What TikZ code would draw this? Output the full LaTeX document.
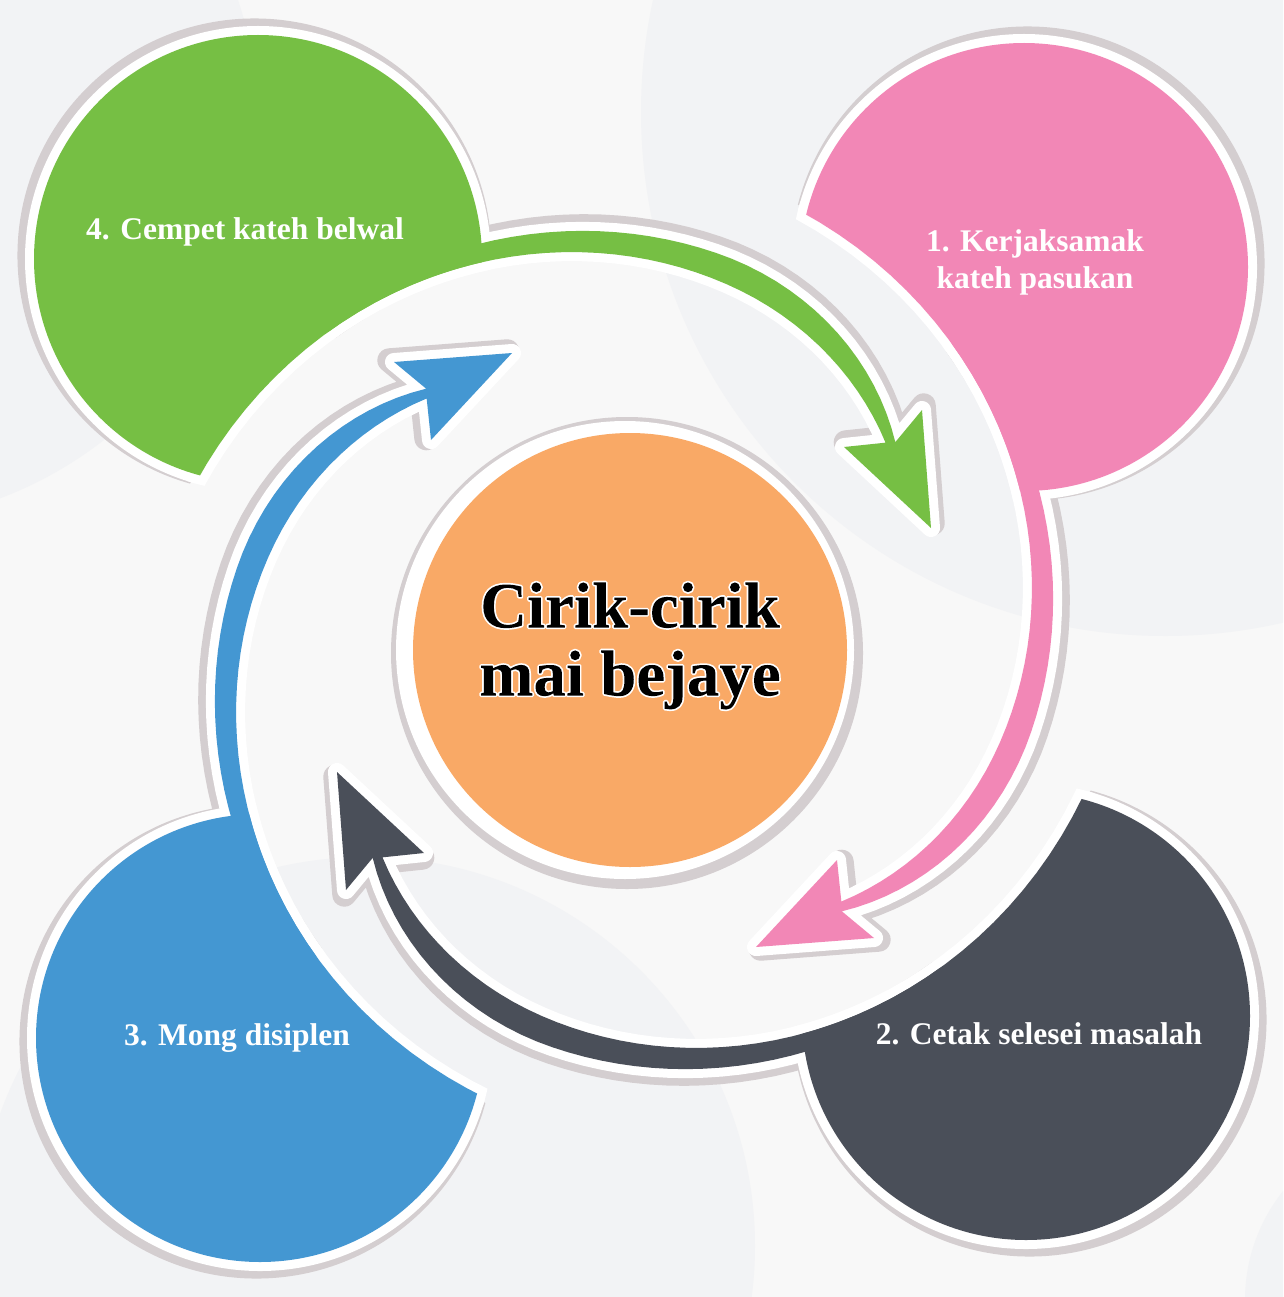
\documentclass[tikz,border=0pt]{standalone}
\usepackage{fontspec}
\setmainfont{Liberation Serif}

\definecolor{bgbase}{HTML}{F8F8F8}
\definecolor{bgshade}{HTML}{F2F3F5}
\definecolor{shadowc}{HTML}{D4CED0}
\definecolor{greenc}{HTML}{76BF44}
\definecolor{pinkc}{HTML}{F287B6}
\definecolor{darkc}{HTML}{4A4F59}
\definecolor{bluec}{HTML}{4497D2}
\definecolor{orangec}{HTML}{F9A966}

% white rim round the title: letters stroked white and used as clip, then filled black
\newcommand\rimon{\special{pdf:literal direct 5 Tr 1 1 1 RG 3.4 w 1 j}}
\newcommand\rimoff{\rule{0.001pt}{0.001pt}\special{pdf:literal direct 0 Tr 0 0 0 rg -4000 -4000 8000 8000 re f}}

% one lobe, drawn for the pink one; the others are rotated copies
\newcommand\spiralline{plot[domain=-110:50.5, samples=60, variable=\t] (\t:{393-1.1*\t-0.0091*max(\t-15,0)^2})}
\newcommand\cutregion{\spiralline -- (60:2500) -- (-25:2500) -- (-110:2500) -- cycle}
\newcommand\bandpath{plot[domain=-40:51.5, samples=40, variable=\t] (\t:{416-0.9*\t-0.0229*max(\t-12,0)^2}) -- (240,288) -- (122,297) -- (203,210) -- plot[domain=50.5:-44, samples=40, variable=\t] (\t:{393-1.1*\t-0.0091*max(\t-15,0)^2}) -- cycle}

\begin{document}
\begin{tikzpicture}[x=1pt, y=-1pt,
  lobetext/.style={text=white, font=\fontsize{31.5}{37}\selectfont\bfseries, inner sep=0pt},
  coretext/.style={text=black, font=\fontsize{65}{68}\selectfont\bfseries, align=center, inner sep=0pt}]
\useasboundingbox (0,0) rectangle (1283,1297);
\fill[bgbase] (0,0) rectangle (1283,1297);
\begin{scope}
\clip (0,0) rectangle (1283,1297);
\fill[bgshade] (1165,112) circle (524);
\fill[bgshade] (-141,125) circle (399);
\fill[bgshade] (366,1246) circle (389);
\fill[bgshade] (1420,1300) circle (175);
\end{scope}

% centre
\fill[shadowc] (627,653) circle (236);
\fill[white] (625,650) circle (229);
\fill[orangec] (630,650) circle (217);

% lobes with their arrows
\foreach \o/\col/\lx/\ly in {0/pinkc/390/-383, 90/darkc/366/-392, 180/bluec/374/-388, 270/greenc/391/-376}{
  \begin{scope}[shift={(634,650)}, rotate=-\o]
    \begin{scope}[shift={(-45:5)}]
      \clip \cutregion;
      \fill[shadowc] (\lx,\ly) circle (237);
    \end{scope}
    \draw[shadowc, fill=shadowc, line width=24pt, line join=round, shift={(20:5)}] \bandpath;
    \begin{scope}
      \clip \cutregion;
      \fill[white] (\lx,\ly) circle (233);
    \end{scope}
    \begin{scope}
      \clip (\lx,\ly) circle (233);
      \draw[white, line width=18pt] \spiralline;
    \end{scope}
    \draw[white, fill=white, line width=18pt, line join=round] \bandpath;
    \begin{scope}
      \clip \cutregion;
      \fill[\col] (\lx,\ly) circle (224);
    \end{scope}
    \fill[\col] \bandpath;
  \end{scope}
}

\node[lobetext, align=center] (lab1) at (1035,262) {1. Kerjaksamak\\kateh pasukan};
\node[lobetext, anchor=base] (lab2) at (1039,1044) {2. Cetak selesei masalah};
\node[lobetext, anchor=base] (lab3) at (237,1045) {3. Mong disiplen};
\node[lobetext, anchor=base] (lab4) at (245,240) {4. Cempet kateh belwal};

% title last, its rim clip stays open to the end
\node[coretext] (core) at (630,646) {\rimon Cirik-cirik\\mai bejaye\rimoff};
\end{tikzpicture}
\end{document}
